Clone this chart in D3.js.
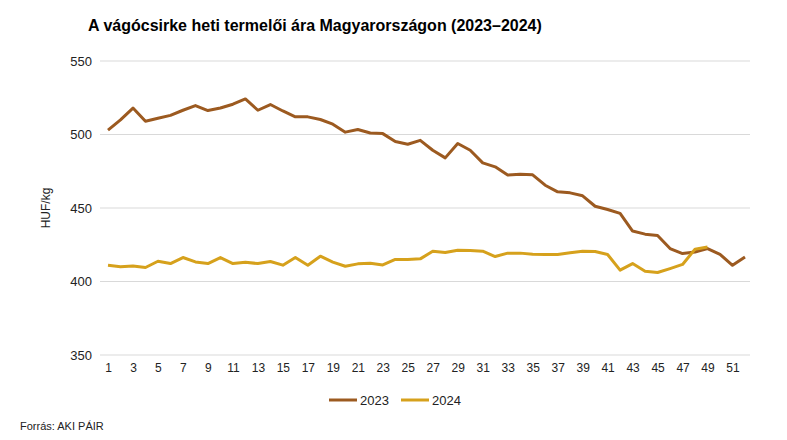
<!DOCTYPE html>
<html><head><meta charset="utf-8">
<script src="https://cdn.jsdelivr.net/npm/d3@7"></script>
<style>body{margin:0;background:#fff}svg{display:block;font-family:"Liberation Sans",Arial,sans-serif}</style>
</head><body>
<script>
const weeks = d3.range(1, 53);
const xTickLabels = d3.range(1, 53, 2);
const yTicks = [350, 400, 450, 500, 550];
const values2023 = [503,510,518,509,511,513,516.5,519.7,516.3,518,520.6,524.2,516.5,520.4,516,512,512,510.2,507,501.6,503.4,501,500.6,495.2,493.4,496,489.3,484.1,493.9,489.3,480.7,478,472.4,472.9,472.6,465.5,461,460.3,458.3,451.2,449,446.3,434.3,432.2,431.3,422.4,419,420.1,422.4,418.5,411,416.7];
const values2024 = [411,410,410.6,409.5,413.8,412.2,416.3,413.3,412.2,416.3,412.2,413.1,412.2,413.6,411.1,416.3,411.1,417.2,413.2,410.4,412,412.4,411.3,415,415,415.4,420.6,419.7,421.3,421.1,420.6,417,419.3,419.3,418.6,418.4,418.4,419.5,420.6,420.4,418.4,407.7,412.2,407,406.1,408.8,411.6,422,423.5];
const seriesNames = ["2023", "2024"];
const colors = ["#9C5A20", "#D6A11C"];

const W = 787, H = 440;
const svg = d3.select("body").append("svg").attr("width", W).attr("height", H);

const x = d3.scaleLinear().domain([1, 52]).range([108, 745]);
const y = d3.scaleLinear().domain([350, 550]).range([355, 61]);

svg.append("text").attr("x", 88).attr("y", 31).attr("font-size", 16).attr("font-weight", "bold")
  .attr("fill", "#000").text("A vágócsirke heti termelői ára Magyarországon (2023–2024)");

// grid
svg.append("g").selectAll("line").data(yTicks).join("line")
  .attr("x1", 100).attr("x2", 750).attr("y1", d => y(d)).attr("y2", d => y(d))
  .attr("stroke", "#d9d9d9").attr("stroke-width", 1);

// y axis labels
const yAxis = d3.axisLeft(y).tickValues(yTicks).tickSize(0).tickPadding(0);
const gy = svg.append("g").attr("transform", "translate(92,0)").call(yAxis);
gy.select(".domain").remove();
gy.selectAll("text").attr("font-size", 13).attr("fill", "#222").attr("font-family", "Liberation Sans, Arial, sans-serif");

// x axis labels
const xAxis = d3.axisBottom(x).tickValues(xTickLabels).tickFormat(d3.format("d")).tickSize(0).tickPadding(0);
const gx = svg.append("g").attr("transform", "translate(0,363)").call(xAxis);
gx.select(".domain").remove();
gx.selectAll("text").attr("font-size", 12).attr("fill", "#222").attr("font-family", "Liberation Sans, Arial, sans-serif");

svg.append("text").attr("transform", "translate(50,208) rotate(-90)").attr("text-anchor", "middle")
  .attr("font-size", 12).attr("fill", "#222").text("HUF/kg");

const line = d3.line().x((d, i) => x(weeks[i])).y(d => y(d));
[values2023, values2024].forEach((vals, k) => {
  svg.append("path").datum(vals).attr("d", line).attr("fill", "none")
    .attr("stroke", colors[k]).attr("stroke-width", 3).attr("stroke-linejoin", "round");
});

// legend
const legX = [329, 401];
seriesNames.forEach((s, k) => {
  svg.append("line").attr("x1", legX[k]).attr("x2", legX[k] + 28).attr("y1", 400).attr("y2", 400)
    .attr("stroke", colors[k]).attr("stroke-width", 3);
  svg.append("text").attr("x", legX[k] + 31).attr("y", 405).attr("font-size", 13).attr("fill", "#222").text(s);
});

svg.append("text").attr("x", 20).attr("y", 430).attr("font-size", 11).attr("fill", "#222").text("Forrás: AKI PÁIR");
</script>
</body></html>
